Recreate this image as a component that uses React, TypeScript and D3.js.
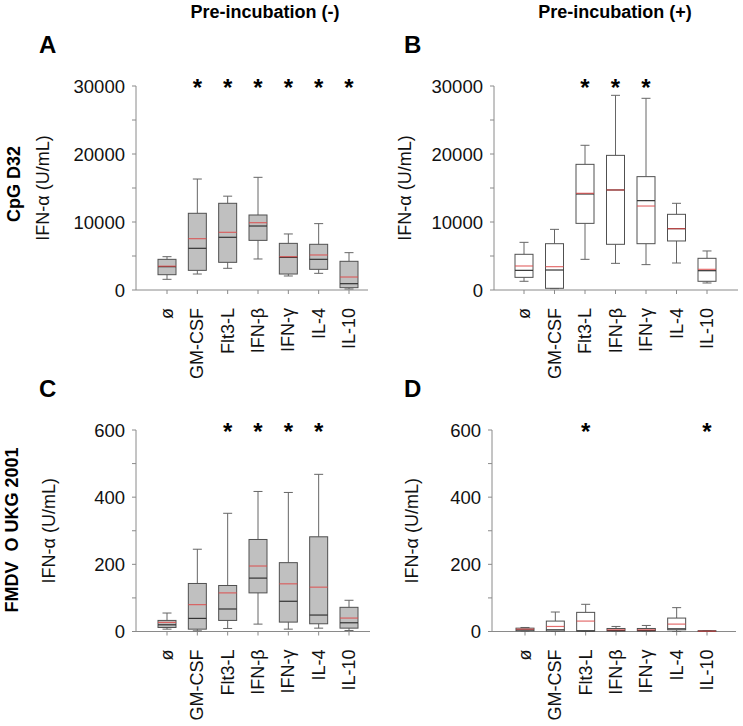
import React from "react";
import * as d3 from "d3";

const categories = ["ø", "GM-CSF", "Flt3-L", "IFN-β", "IFN-γ", "IL-4", "IL-10"];

// [whiskerLow, q1, median, mean, q3, whiskerHigh]
const cpgMinus = [
  [1570, 2250, 3430, 3500, 4510, 4900],
  [2350, 2890, 6130, 7550, 11280, 16320],
  [3190, 4070, 7750, 8480, 12750, 13800],
  [4560, 7300, 9410, 9900, 11030, 16570],
  [2060, 2350, 4800, 4900, 6860, 8240],
  [2450, 3040, 4510, 5150, 6720, 9760],
  [150, 340, 930, 1910, 4220, 5490],
];
const cpgPlus = [
  [1280, 1860, 2890, 3530, 5250, 7010],
  [200, 250, 2940, 3430, 6810, 8920],
  [4510, 9800, 14120, 14220, 18480, 21280],
  [3920, 6720, 14710, 14710, 19800, 28630],
  [3730, 6810, 13140, 12350, 16670, 28190],
  [3970, 7210, 9020, 9020, 11130, 12750],
  [1030, 1280, 2840, 3040, 4660, 5740],
];
const fmdvMinus = [
  [7, 12, 20, 27, 33, 55],
  [2, 7, 39, 80, 143, 245],
  [9, 33, 67, 115, 137, 352],
  [22, 115, 159, 195, 274, 417],
  [7, 28, 90, 142, 205, 414],
  [10, 23, 49, 132, 282, 468],
  [3, 10, 26, 40, 72, 93],
];
const fmdvPlus = [
  [1, 2, 5, 7, 10, 12],
  [0, 1, 5, 15, 31, 58],
  [0, 1, 2, 31, 57, 81],
  [0, 1, 3, 5, 9, 15],
  [0, 1, 3, 5, 9, 18],
  [0, 5, 8, 22, 40, 71],
  [0, 0.5, 1, 1, 2, 2],
];

const sigA = ["GM-CSF", "Flt3-L", "IFN-β", "IFN-γ", "IL-4", "IL-10"];
const sigB = ["Flt3-L", "IFN-β", "IFN-γ"];
const sigC = ["Flt3-L", "IFN-β", "IFN-γ", "IL-4"];
const sigD = ["Flt3-L", "IL-10"];

const cpgTicks = [0, 10000, 20000, 30000];
const fmdvTicks = [0, 200, 400, 600];

const FONT = "'Liberation Sans', Arial, sans-serif";

type PanelProps = {
  data: number[][];
  sig: string[];
  ticks: number[];
  yMax: number;
  axisX: number;
  axisEnd: number;
  xFirst: number;
  xLast: number;
  yTop: number;
  yBottom: number;
  fill: string;
  letter: string;
  letterX: number;
  yLabelX: number;
};

function Panel(p: PanelProps) {
  const x = d3.scalePoint<string>().domain(categories).range([p.xFirst, p.xLast]);
  const y = d3.scaleLinear().domain([0, p.yMax]).range([p.yBottom, p.yTop]);
  const minor = d3.range(0, p.yMax + 1, p.yMax / 6);
  const bw = 18;
  const axisCol = "#8a8a8a";
  const boxStroke = "#505050";
  const midY = (p.yTop + p.yBottom) / 2;
  return (
    <g>
      <text x={p.letterX} y={p.yTop - 33} fontFamily={FONT} fontWeight="bold" fontSize={24}>
        {p.letter}
      </text>
      {/* y axis */}
      <line x1={p.axisX} x2={p.axisX} y1={y(p.yMax)} y2={y(0)} stroke={axisCol} strokeWidth={1} />
      {minor.map((t, i) => (
        <line key={"m" + i} x1={p.axisX - 4} x2={p.axisX} y1={y(t)} y2={y(t)} stroke={axisCol} strokeWidth={1} />
      ))}
      {p.ticks.map((t) => (
        <text
          key={"t" + t}
          x={p.axisX - 11}
          y={y(t)}
          textAnchor="end"
          dominantBaseline="central"
          fontFamily={FONT}
          fontSize={18.5}
          fill="#111"
        >
          {t}
        </text>
      ))}
      <text
        transform={`translate(${p.yLabelX},${midY}) rotate(-90)`}
        textAnchor="middle"
        dominantBaseline="central"
        fontFamily={FONT}
        fontSize={18}
        fill="#111"
      >
        IFN-α (U/mL)
      </text>
      {/* x axis */}
      <line x1={p.axisX} x2={p.axisEnd} y1={y(0)} y2={y(0)} stroke={axisCol} strokeWidth={1} />
      {categories.map((c) => (
        <g key={"xc" + c}>
          <line x1={x(c)!} x2={x(c)!} y1={y(0)} y2={y(0) + 4} stroke={axisCol} strokeWidth={1} />
          <text
            transform={`translate(${x(c)},${y(0) + 18}) rotate(-90)`}
            textAnchor="end"
            dominantBaseline="central"
            fontFamily={FONT}
            fontSize={18}
            fill="#111"
          >
            {c}
          </text>
        </g>
      ))}
      {/* boxes */}
      {p.data.map((s, i) => {
        const cx = x(categories[i])!;
        const [lo, q1, med, mean, q3, hi] = s;
        return (
          <g key={"b" + i}>
            <line x1={cx} x2={cx} y1={y(q3)} y2={y(hi)} stroke="#666" strokeWidth={1} />
            <line x1={cx} x2={cx} y1={y(q1)} y2={y(lo)} stroke="#666" strokeWidth={1} />
            <line x1={cx - bw / 4} x2={cx + bw / 4} y1={y(hi)} y2={y(hi)} stroke="#666" strokeWidth={1} />
            <line x1={cx - bw / 4} x2={cx + bw / 4} y1={y(lo)} y2={y(lo)} stroke="#666" strokeWidth={1} />
            <rect
              x={cx - bw / 2}
              y={y(q3)}
              width={bw}
              height={Math.max(0.5, y(q1) - y(q3))}
              fill={p.fill}
              stroke={boxStroke}
              strokeWidth={1}
            />
            <line x1={cx - bw / 2} x2={cx + bw / 2} y1={y(med)} y2={y(med)} stroke="#333" strokeWidth={1.2} />
            <line
              x1={cx - bw / 2}
              x2={cx + bw / 2}
              y1={y(mean)}
              y2={y(mean)}
              stroke="#dd4a4a"
              strokeOpacity={0.8}
              strokeWidth={1.2}
            />
          </g>
        );
      })}
      {/* significance */}
      {p.sig.map((c) => (
        <text
          key={"s" + c}
          x={x(c)!}
          y={p.yTop + 10}
          textAnchor="middle"
          fontFamily={FONT}
          fontWeight="bold"
          fontSize={24}
        >
          *
        </text>
      ))}
    </g>
  );
}

export default function App() {
  return (
    <svg
      width={743}
      height={726}
      viewBox="0 0 743 726"
      style={{ position: "absolute", left: 0, top: 0, display: "block", background: "#fff" }}
    >
      <rect width={743} height={726} fill="#fff" />
      <text x={265} y={18} textAnchor="middle" fontFamily={FONT} fontWeight="bold" fontSize={18}>
        Pre-incubation (-)
      </text>
      <text x={615} y={18} textAnchor="middle" fontFamily={FONT} fontWeight="bold" fontSize={18}>
        Pre-incubation (+)
      </text>
      <text
        transform="translate(14,184) rotate(-90)"
        textAnchor="middle"
        dominantBaseline="central"
        fontFamily={FONT}
        fontWeight="bold"
        fontSize={18}
      >
        CpG D32
      </text>
      <text
        transform="translate(12,530) rotate(-90)"
        textAnchor="middle"
        dominantBaseline="central"
        fontFamily={FONT}
        fontWeight="bold"
        fontSize={18}
        style={{ whiteSpace: "pre" }}
      >
        {"FMDV  O UKG 2001"}
      </text>
      <Panel
        data={cpgMinus}
        sig={sigA}
        ticks={cpgTicks}
        yMax={30000}
        axisX={136}
        axisEnd={368}
        xFirst={167}
        xLast={349}
        yTop={86}
        yBottom={290}
        fill="#c0c0c0"
        letter="A"
        letterX={39}
        yLabelX={43}
      />
      <Panel
        data={cpgPlus}
        sig={sigB}
        ticks={cpgTicks}
        yMax={30000}
        axisX={494}
        axisEnd={738}
        xFirst={524}
        xLast={707}
        yTop={86}
        yBottom={290}
        fill="#ffffff"
        letter="B"
        letterX={404}
        yLabelX={405}
      />
      <Panel
        data={fmdvMinus}
        sig={sigC}
        ticks={fmdvTicks}
        yMax={600}
        axisX={136}
        axisEnd={370}
        xFirst={167}
        xLast={349}
        yTop={430}
        yBottom={631.5}
        fill="#c0c0c0"
        letter="C"
        letterX={39}
        yLabelX={49}
      />
      <Panel
        data={fmdvPlus}
        sig={sigD}
        ticks={fmdvTicks}
        yMax={600}
        axisX={492}
        axisEnd={736}
        xFirst={525}
        xLast={707}
        yTop={430}
        yBottom={631.5}
        fill="#ffffff"
        letter="D"
        letterX={404}
        yLabelX={412}
      />
    </svg>
  );
}
